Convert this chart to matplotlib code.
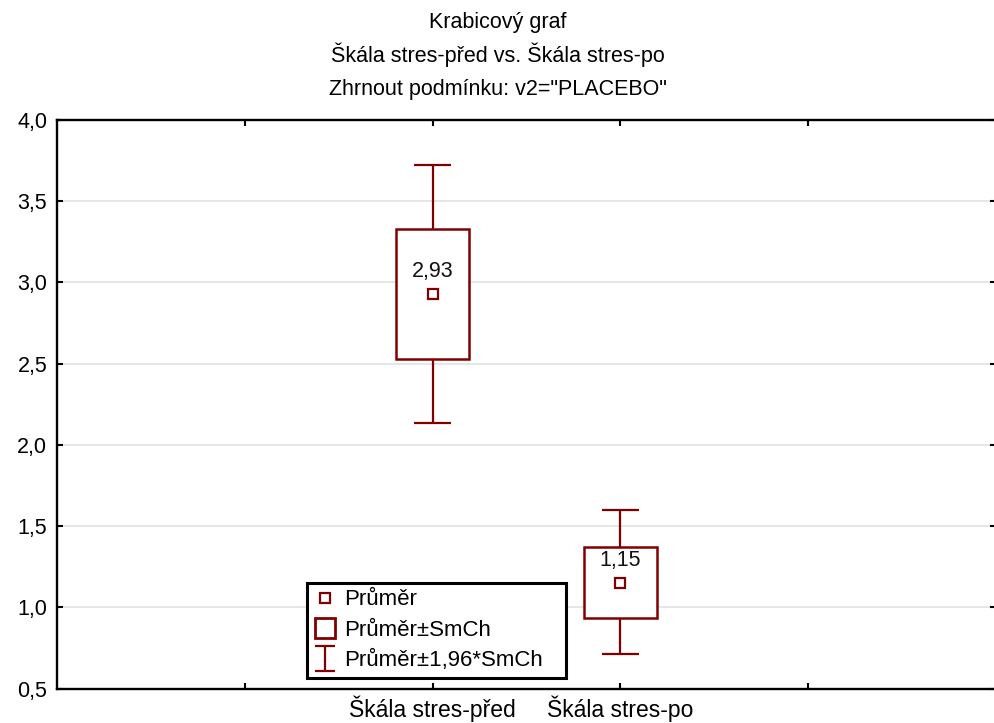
import matplotlib
matplotlib.use("Agg")
import matplotlib.pyplot as plt
from matplotlib.lines import Line2D
from matplotlib.path import Path
import numpy as np

plt.rcParams['font.family'] = ['Liberation Sans', 'DejaVu Sans']

# Data
categories = ["Škála stres-před", "Škála stres-po"]
means = [2.93, 1.152]
mean_labels = ["2,93", "1,15"]
box_low = [2.529, 0.935]
box_high = [3.329, 1.372]
whisk_low = [2.137, 0.714]
whisk_high = [3.723, 1.598]
yticks = [0.5, 1.0, 1.5, 2.0, 2.5, 3.0, 3.5, 4.0]
ytick_labels = ["0,5", "1,0", "1,5", "2,0", "2,5", "3,0", "3,5", "4,0"]
titles = ["Krabicový graf", "Škála stres-před vs. Škála stres-po", 'Zhrnout podmínku: v2="PLACEBO"']
legend_labels = ["Průměr", "Průměr±SmCh", "Průměr±1,96*SmCh"]

positions = [2, 3]
color = "#800000"

fig = plt.figure(figsize=(9.95, 7.23), dpi=100)
ax = fig.add_axes([57/995, 1 - 688.7/723, 939/995, (688.7 - 120)/723])

ax.set_xlim(0, 5)
ax.set_ylim(0.5, 4.0)

box_w = 0.39
cap_w = 0.2
for x, m, bl, bh, wl, wh, lab in zip(positions, means, box_low, box_high, whisk_low, whisk_high, mean_labels):
    ax.add_patch(plt.Rectangle((x - box_w/2, bl), box_w, bh - bl, facecolor='white',
                               edgecolor=color, lw=1.8, zorder=3))
    ax.vlines(x, bh, wh, color=color, lw=1.6, zorder=3)
    ax.vlines(x, wl, bl, color=color, lw=1.6, zorder=3)
    ax.hlines([wl, wh], x - cap_w/2, x + cap_w/2, color=color, lw=1.6, zorder=3)
    ax.plot([x], [m], marker='s', ms=7, mfc='white', mec=color, mew=1.6, ls='none', zorder=4)
    ax.annotate(lab, (x, m), xytext=(0, 16), textcoords='offset points', ha='center',
                va='center', fontsize=15.5, color='#111111', zorder=5)

ax.set_yticks(yticks)
ax.set_yticklabels(ytick_labels)
ax.set_xticks([1, 2, 3, 4])
ax.set_xticklabels(["", categories[0], categories[1], ""])
ax.tick_params(direction='in', length=4, width=1.5, labelsize=15.5, top=True, right=True,
               colors='black', pad=7)
ax.tick_params(axis='x', pad=5, labelsize=16.5)
ax.yaxis.grid(True, color='#e2e2e2', lw=1.2)
ax.set_axisbelow(True)
for s in ax.spines.values():
    s.set_linewidth(1.7)
    s.set_color('black')

# Titles
for t, yb in zip(titles, [28, 62, 95]):
    fig.text(0.5, 1 - yb/723, t, ha='center', va='baseline', fontsize=15.5)

# Legend
ibeam = Path([(-0.8, 1), (0.8, 1), (0, 1), (0, -1), (-0.8, -1), (0.8, -1)],
             [Path.MOVETO, Path.LINETO, Path.MOVETO, Path.LINETO, Path.MOVETO, Path.LINETO])
handles = [
    Line2D([], [], marker='s', ms=7, mfc='white', mec=color, mew=1.6, ls='none'),
    Line2D([], [], marker='s', ms=14, mfc='white', mec=color, mew=2.0, ls='none'),
    Line2D([], [], marker=ibeam, ms=18, mfc='none', mec=color, mew=1.6, ls='none'),
]
leg = ax.legend(handles, legend_labels, loc='lower left',
                bbox_to_anchor=(0.266, 0.019, 0.276, 0.17), mode='expand',
                fontsize=16, frameon=True, fancybox=False, framealpha=1, edgecolor='black',
                handlelength=1.0, handletextpad=0.4, borderpad=0.3, labelspacing=0.42,
                borderaxespad=0)
leg.get_frame().set_linewidth(2.2)

fig.savefig("out.png", dpi=100)
